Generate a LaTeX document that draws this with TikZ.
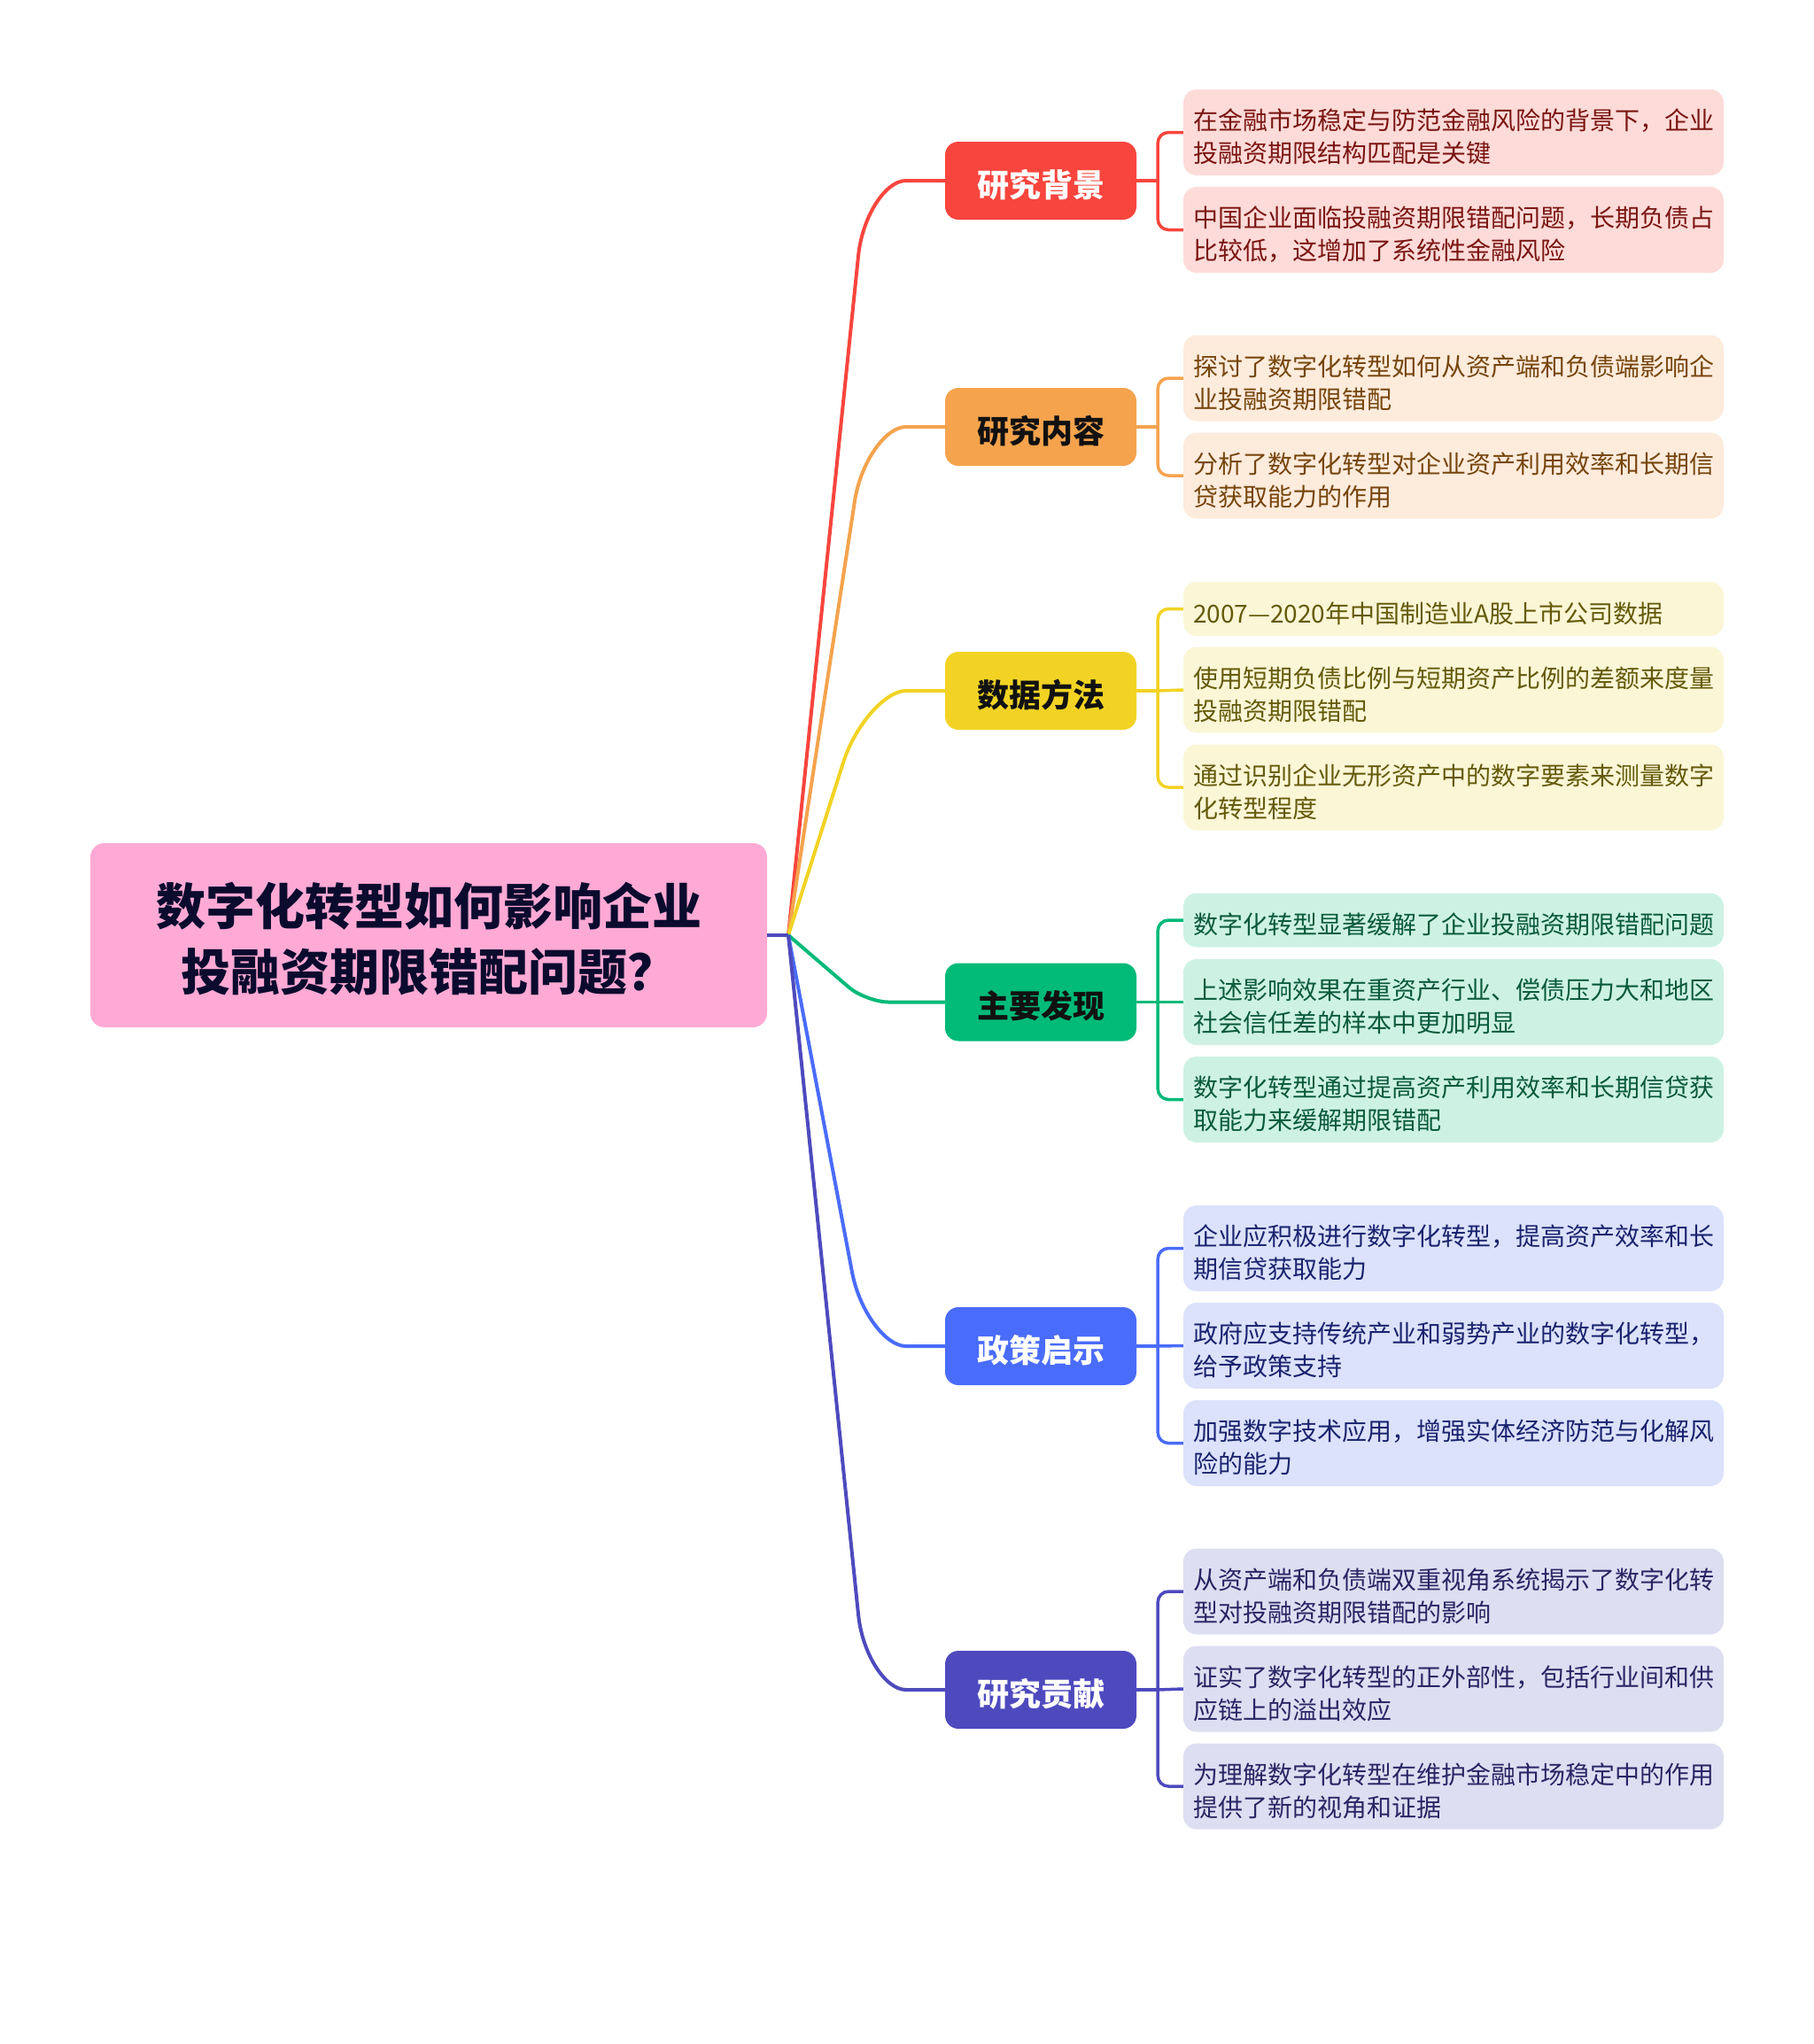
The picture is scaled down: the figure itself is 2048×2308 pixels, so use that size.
\documentclass[tikz,border=0pt]{standalone}
\usepackage{fontspec}
\setmainfont{Noto Sans CJK SC}
\usetikzlibrary{calc}
\definecolor{rootfill}{HTML}{FFAAD5}
\definecolor{roottext}{HTML}{0B0B2E}
\definecolor{cRed}{HTML}{F8453D}
\definecolor{cOrange}{HTML}{F5A34D}
\definecolor{cYellow}{HTML}{F2D324}
\definecolor{cGreen}{HTML}{00BA78}
\definecolor{cBlue}{HTML}{4A6CFA}
\definecolor{cPurple}{HTML}{4E4ABE}
\definecolor{fRed}{HTML}{FDDBD9}
\definecolor{fOrange}{HTML}{FDEBDC}
\definecolor{fYellow}{HTML}{FBF6D6}
\definecolor{fGreen}{HTML}{CDF2E3}
\definecolor{fBlue}{HTML}{DCE2FB}
\definecolor{fPurple}{HTML}{DEDEF2}
\definecolor{tRed}{HTML}{7A1512}
\definecolor{tOrange}{HTML}{76450C}
\definecolor{tYellow}{HTML}{645A0A}
\definecolor{tGreen}{HTML}{0A5A3C}
\definecolor{tBlue}{HTML}{19236E}
\definecolor{tPurple}{HTML}{282664}
\definecolor{darkt}{HTML}{111111}
\begin{document}
\begin{tikzpicture}[x=1pt,y=-1pt,
  rootbox/.style={fill=rootfill, rounded corners=16pt, minimum width=764pt, minimum height=208pt,
    inner sep=0pt, text width=764pt, align=center, text=roottext,
    font=\fontsize{56}{74}\selectfont\bfseries, execute at begin node={\rule{0pt}{56pt}}},
  branchbox/.style={rounded corners=15pt, minimum width=216pt, minimum height=88pt, inner sep=0pt,
    text width=216pt, align=center,
    font=\fontsize{36}{40}\selectfont\bfseries, execute at begin node={\rule{0pt}{40pt}}},
  leafbox/.style={rounded corners=15pt, minimum width=610pt, inner xsep=11pt, inner ysep=0pt,
    text width=588pt, align=left, font=\fontsize{28}{37}\selectfont,
    execute at begin node={\rule{0pt}{34pt}}},
  twoline/.style={minimum height=97pt},
  oneline/.style={minimum height=61pt},
  link/.style={line width=4pt},
  sublink/.style={line width=3.5pt, rounded corners=12pt},
]
\useasboundingbox (0,0) rectangle (2048,2308);

% root
\node[rootbox] (root) at (484,1056) {数字化转型如何影响企业\\投融资期限错配问题？};
\coordinate (S) at (890,1056);

% branches
\node[branchbox, fill=cRed, text=white] (b1) at (1175,204) {研究背景};
\node[branchbox, fill=cOrange, text=darkt] (b2) at (1175,482) {研究内容};
\node[branchbox, fill=cYellow, text=darkt] (b3) at (1175,780) {数据方法};
\node[branchbox, fill=cGreen, text=darkt] (b4) at (1175,1131.5) {主要发现};
\node[branchbox, fill=cBlue, text=white] (b5) at (1175,1520) {政策启示};
\node[branchbox, fill=cPurple, text=white] (b6) at (1175,1908) {研究贡献};

% leaves
\node[leafbox, twoline, fill=fRed, text=tRed] (l1a) at (1641,149.5) {在金融市场稳定与防范金融风险的背景下，企业\\投融资期限结构匹配是关键};
\node[leafbox, twoline, fill=fRed, text=tRed] (l1b) at (1641,259.5) {中国企业面临投融资期限错配问题，长期负债占\\比较低，这增加了系统性金融风险};

\node[leafbox, twoline, fill=fOrange, text=tOrange] (l2a) at (1641,427) {探讨了数字化转型如何从资产端和负债端影响企\\业投融资期限错配};
\node[leafbox, twoline, fill=fOrange, text=tOrange] (l2b) at (1641,537) {分析了数字化转型对企业资产利用效率和长期信\\贷获取能力的作用};

\node[leafbox, oneline, fill=fYellow, text=tYellow] (l3a) at (1641,687.5) {2007—2020年中国制造业A股上市公司数据};
\node[leafbox, twoline, fill=fYellow, text=tYellow] (l3b) at (1641,779) {使用短期负债比例与短期资产比例的差额来度量\\投融资期限错配};
\node[leafbox, twoline, fill=fYellow, text=tYellow] (l3c) at (1641,889) {通过识别企业无形资产中的数字要素来测量数字\\化转型程度};

\node[leafbox, oneline, fill=fGreen, text=tGreen] (l4a) at (1641,1039) {数字化转型显著缓解了企业投融资期限错配问题};
\node[leafbox, twoline, fill=fGreen, text=tGreen] (l4b) at (1641,1131.5) {上述影响效果在重资产行业、偿债压力大和地区\\社会信任差的样本中更加明显};
\node[leafbox, twoline, fill=fGreen, text=tGreen] (l4c) at (1641,1241.5) {数字化转型通过提高资产利用效率和长期信贷获\\取能力来缓解期限错配};

\node[leafbox, twoline, fill=fBlue, text=tBlue] (l5a) at (1641,1409.5) {企业应积极进行数字化转型，提高资产效率和长\\期信贷获取能力};
\node[leafbox, twoline, fill=fBlue, text=tBlue] (l5b) at (1641,1519.5) {政府应支持传统产业和弱势产业的数字化转型，\\给予政策支持};
\node[leafbox, twoline, fill=fBlue, text=tBlue] (l5c) at (1641,1629.5) {加强数字技术应用，增强实体经济防范与化解风\\险的能力};

\node[leafbox, twoline, fill=fPurple, text=tPurple] (l6a) at (1641,1797) {从资产端和负债端双重视角系统揭示了数字化转\\型对投融资期限错配的影响};
\node[leafbox, twoline, fill=fPurple, text=tPurple] (l6b) at (1641,1907) {证实了数字化转型的正外部性，包括行业间和供\\应链上的溢出效应};
\node[leafbox, twoline, fill=fPurple, text=tPurple] (l6c) at (1641,2017) {为理解数字化转型在维护金融市场稳定中的作用\\提供了新的视角和证据};

% main connectors
\foreach \bn/\col/\nA/\nB/\nC/\nD in {b1/cRed/85/40/45/22, b2/cOrange/85/40/45/22, b3/cYellow/85/40/45/22, b4/cGreen/25/12/25/12, b5/cBlue/85/40/45/22, b6/cPurple/85/40/45/22} {
  \path (\bn.west) ++(-89,0) coordinate (C);
  \draw[link, draw=\col] (S) -- ($(C)!\nA pt!(S)$) .. controls ($(C)!\nB pt!(S)$) and ($(C)+(\nD,0)$) .. ($(C)+(\nC,0)$) -- (\bn.west);
}
\draw[link, draw=cPurple] (root.east) -- (S);

% sub connectors
\draw[link, draw=cRed, line width=3.5pt] (b1.east) -- ++(24,0) coordinate (j1);
\draw[sublink, draw=cRed] (l1a.west) -| (j1) |- (l1b.west);

\draw[link, draw=cOrange, line width=3.5pt] (b2.east) -- ++(24,0) coordinate (j2);
\draw[sublink, draw=cOrange] (l2a.west) -| (j2) |- (l2b.west);

\draw[link, draw=cYellow, line width=3.5pt] (b3.east) -- ++(24,0) coordinate (j3);
\draw[sublink, draw=cYellow] (l3a.west) -| (j3) |- (l3c.west);
\draw[sublink, draw=cYellow] (j3) -- (l3b.west);

\draw[link, draw=cGreen, line width=3.5pt] (b4.east) -- ++(24,0) coordinate (j4);
\draw[sublink, draw=cGreen] (l4a.west) -| (j4) |- (l4c.west);
\draw[sublink, draw=cGreen] (j4) -- (l4b.west);

\draw[link, draw=cBlue, line width=3.5pt] (b5.east) -- ++(24,0) coordinate (j5);
\draw[sublink, draw=cBlue] (l5a.west) -| (j5) |- (l5c.west);
\draw[sublink, draw=cBlue] (j5) -- (l5b.west);

\draw[link, draw=cPurple, line width=3.5pt] (b6.east) -- ++(24,0) coordinate (j6);
\draw[sublink, draw=cPurple] (l6a.west) -| (j6) |- (l6c.west);
\draw[sublink, draw=cPurple] (j6) -- (l6b.west);
\end{tikzpicture}
\end{document}
